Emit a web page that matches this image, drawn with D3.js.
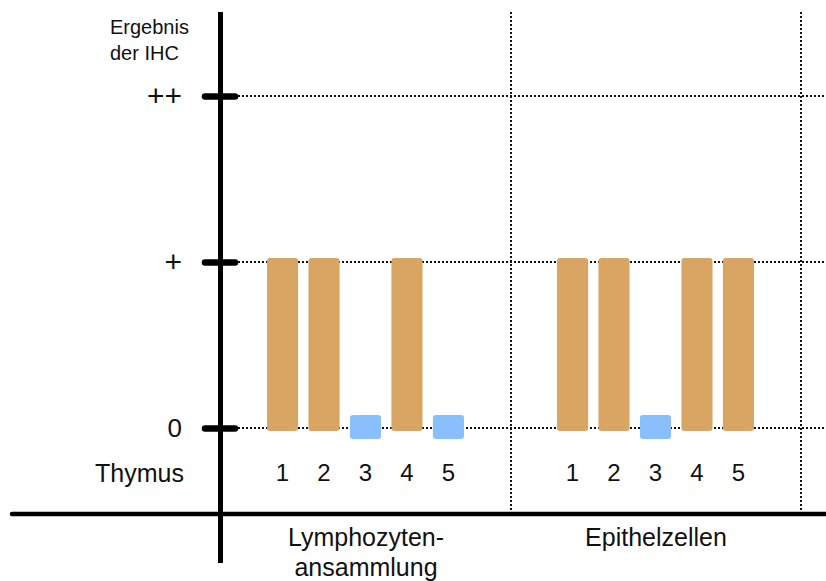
<!DOCTYPE html>
<html>
<head>
<meta charset="utf-8">
<script src="https://cdn.jsdelivr.net/npm/d3@7"></script>
<style>
  html, body { margin: 0; padding: 0; background: #fff; }
  svg { display: block; font-family: "Liberation Sans", Arial, Helvetica, sans-serif; }
</style>
</head>
<body>
<svg id="chart" width="826" height="581"></svg>
<script>
// IHC result per thymus sample, two tissue compartments
const groups = ["Lymphozyten-ansammlung", "Epithelzellen"];
const groupLines = [["Lymphozyten-", "ansammlung"], ["Epithelzellen"]];
const samples = ["1", "2", "3", "4", "5"];
const lymphoValues = [1, 1, 0, 1, 0];
const epithelValues = [1, 1, 0, 1, 1];
const levels = [0, 1, 2];
const levelLabels = ["0", "+", "++"];
const yTitle = ["Ergebnis", "der IHC"];
const rowLabel = "Thymus";

const seriesByGroup = [lymphoValues, epithelValues];
const orange = "#D9A562";
const blue = "#89BFFC";
const dotColor = "#111";

const svg = d3.select("#chart");

const y = d3.scaleLinear().domain([0, 2]).range([428, 96]);
const xGroup = d3.scaleBand().domain(groups).range([221, 801]).padding(0);
const xBar = d3.scaleBand().domain(samples).range([46, 243]).paddingInner(0.25).paddingOuter(0);

const axisX = 220.5, axisTop = 12, axisBottom = 563, baseY = 514;

// dotted horizontal grid at each level
svg.append("g").selectAll("line").data(levels).join("line")
  .attr("x1", 238).attr("x2", 826)
  .attr("y1", d => Math.round(y(d))).attr("y2", d => Math.round(y(d)))
  .attr("stroke", dotColor).attr("stroke-width", 2)
  .attr("stroke-dasharray", "2,2");

// dotted vertical separators at group boundaries
const sepX = [xGroup(groups[1]), xGroup.range()[1]];
svg.append("g").selectAll("line").data(sepX).join("line")
  .attr("x1", d => Math.round(d)).attr("x2", d => Math.round(d))
  .attr("y1", axisTop).attr("y2", baseY - 2)
  .attr("stroke", dotColor).attr("stroke-width", 2)
  .attr("stroke-dasharray", "2,2");

// bars
const barData = [];
groups.forEach((g, gi) => {
  seriesByGroup[gi].forEach((v, i) => barData.push({ g, s: samples[i], v }));
});
const bx = d => xGroup(d.g) + xBar(d.s);

svg.append("g").selectAll("rect").data(barData).join("rect")
  .attr("x", d => bx(d))
  .attr("width", xBar.bandwidth())
  .attr("y", d => d.v > 0 ? y(d.v) - 4 : y(0) - 13)
  .attr("height", d => d.v > 0 ? (y(0) + 3) - (y(d.v) - 4) : 24)
  .attr("rx", 3).attr("ry", 3)
  .attr("fill", d => d.v > 0 ? orange : blue);

// sample numbers under bars
svg.append("g").selectAll("text").data(barData).join("text")
  .attr("x", d => bx(d) + xBar.bandwidth() / 2)
  .attr("y", 481)
  .attr("text-anchor", "middle")
  .attr("font-size", 24)
  .attr("fill", "#111")
  .text(d => d.s);

// row label
svg.append("text")
  .attr("x", 184).attr("y", 482)
  .attr("text-anchor", "end")
  .attr("font-size", 25)
  .attr("fill", "#111")
  .text(rowLabel);

// y axis line and x baseline
svg.append("line")
  .attr("x1", axisX).attr("x2", axisX)
  .attr("y1", axisTop).attr("y2", axisBottom)
  .attr("stroke", "#000").attr("stroke-width", 5);
svg.append("line")
  .attr("x1", 12).attr("x2", 830)
  .attr("y1", baseY).attr("y2", baseY)
  .attr("stroke", "#000").attr("stroke-width", 4.5)
  .attr("stroke-linecap", "round");

// level ticks and labels
const yAxis = d3.axisLeft(y)
  .tickValues(levels)
  .tickFormat((d, i) => levelLabels[i])
  .tickSize(30)
  .tickPadding(23);
const ya = svg.append("g").attr("transform", "translate(235,0)").call(yAxis);
ya.select(".domain").remove();
ya.selectAll(".tick line")
  .attr("stroke", "#000").attr("stroke-width", 6.5)
  .attr("stroke-linecap", "round");
ya.selectAll(".tick text")
  .attr("font-size", (d, i) => levelLabels[i] === "0" ? 26 : 30)
  .attr("font-family", "'Liberation Sans', Arial, sans-serif")
  .attr("fill", "#111");

// axis title
svg.append("text")
  .attr("font-size", 20)
  .attr("fill", "#111")
  .selectAll("tspan").data(yTitle).join("tspan")
  .attr("x", 110)
  .attr("y", (d, i) => 34 + i * 26)
  .text(d => d);

// group labels
svg.append("g").selectAll("text").data(groups).join("text")
  .attr("text-anchor", "middle")
  .attr("font-size", 25)
  .attr("fill", "#111")
  .each(function (g, gi) {
    d3.select(this).selectAll("tspan").data(groupLines[gi]).join("tspan")
      .attr("x", xGroup(g) + xGroup.bandwidth() / 2)
      .attr("y", (d, i) => 546 + i * 30)
      .text(d => d);
  });
</script>
</body>
</html>
